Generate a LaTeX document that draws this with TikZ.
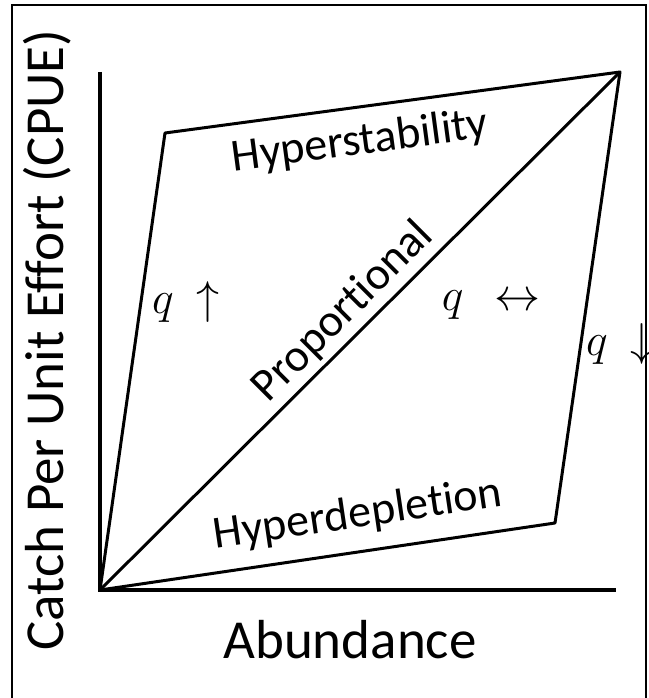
\RequirePackage{fix-cm}
\documentclass[tikz,border=0pt]{standalone}
\usepackage{fontspec}
\setmainfont{Carlito}[Ligatures={NoCommon,NoRare}]
\usetikzlibrary{positioning}

\begin{document}
\begin{tikzpicture}[x=1pt, y=-1pt,
    axis/.style={line width=4pt},
    edge/.style={line width=3pt, line join=round},
    axlabel/.style={font=\fontsize{55}{60}\selectfont, inner sep=0pt},
    regime/.style={font=\fontsize{46}{50}\selectfont, inner sep=0pt},
    qlabel/.style={font=\fontsize{46}{50}\selectfont, inner sep=0pt, anchor=base}
]
    \useasboundingbox (0,0) rectangle (648,698);
    % Frame, open at the bottom
    \draw[line width=2pt] (12,698) -- (12,5) -- (646,5) -- (646,698);

    % Corners
    \coordinate (origin) at (100,590);
    \coordinate (ytop) at (100,72);
    \coordinate (xend) at (616,590);
    \coordinate (stab) at (165,133);
    \coordinate (apex) at (620,72);
    \coordinate (depl) at (555,523);

    % Axes
    \draw[axis] (ytop) -- (origin) -- (xend);

    % Regimes
    \draw[edge] (origin) -- (stab) -- (apex) -- (depl) -- cycle;
    \draw[edge] (origin) -- (apex);

    % Labels
    \node[axlabel, anchor=base] (xlab) at (350,658) {Abundance};
    \node[axlabel, anchor=base, rotate=90] (ylab) at (63,340) {Catch Per Unit Effort (CPUE)};
    \node[regime, rotate=7.6] (hstab) at (360,142) {Hyperstability};
    \node[regime, rotate=45] (prop) at (343,312) {Proportional};
    \node[regime, rotate=8.4] (hdepl) at (358,515) {Hyperdepletion};

    \node[qlabel] (qup) at (186,313) {$q\mkern4mu\uparrow$};
    \node[qlabel] (qeq) at (491,310) {$q\mkern7mu\leftrightarrow$};
    \node[qlabel] (qdown) at (620,355) {$q\mkern4mu\downarrow$};
\end{tikzpicture}
\end{document}
